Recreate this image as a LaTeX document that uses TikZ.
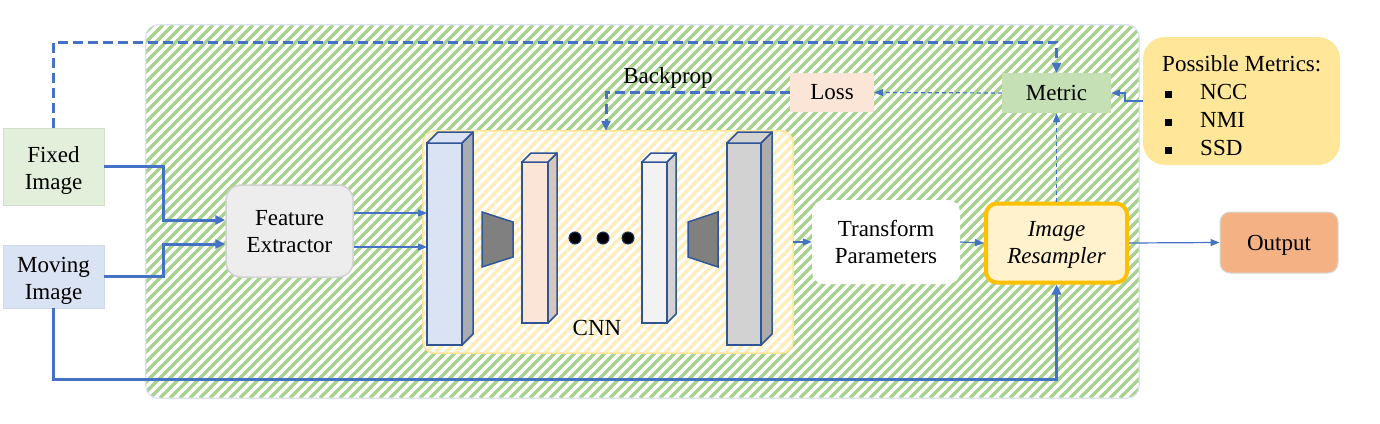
\documentclass[tikz,border=0pt]{standalone}
\usepackage{fontspec}
\setmainfont{Liberation Serif}
\usetikzlibrary{arrows.meta}
\definecolor{arrowblue}{HTML}{4472C4}
\definecolor{hatchgreen}{HTML}{A9D18E}
\definecolor{hatchyellow}{HTML}{FFEDBA}
\definecolor{edgeblue}{HTML}{DAE3F3}
\definecolor{blockedge}{HTML}{2F5597}
\definecolor{fixedfill}{HTML}{E2EFDA}
\definecolor{movingfill}{HTML}{DAE3F3}
\definecolor{fefill}{HTML}{EDEDED}
\definecolor{lossfill}{HTML}{FBE5D6}
\definecolor{metricfill}{HTML}{C5E0B4}
\definecolor{resfill}{HTML}{FFF2CC}
\definecolor{resedge}{HTML}{FFC000}
\definecolor{outfill}{HTML}{F4B183}
\definecolor{pmfill}{HTML}{FFE699}
\definecolor{cnnedge}{HTML}{FFE699}
\newcommand\cnnblock[8]{%
  \filldraw[fill=#6, draw=blockedge, line width=1.5pt] (#1,#2) rectangle (#3,#4);
  \filldraw[fill=#7, draw=blockedge, line width=1.5pt, line join=round] (#3,#2) -- ++(#5,-#5) -- (#3+#5,#4-#5) -- (#3,#4) -- cycle;
  \filldraw[fill=#8, draw=blockedge, line width=1.5pt, line join=round] (#1,#2) -- ++(#5,-#5) -- (#3+#5,#2-#5) -- (#3,#2) -- cycle;
}
\newcommand\lowertxt[2]{\raisebox{-#1}[\height][\depth]{#2}}
\begin{document}
\begin{tikzpicture}[x=1pt,y=-1pt,
  every node/.style={font=\fontsize{23}{27}\selectfont, align=center, inner sep=0pt},
  thickarrow/.style={draw=arrowblue, line width=3pt, -{Triangle[length=10pt,width=9pt]}},
  thinarrow/.style={draw=arrowblue, line width=1.2pt, -{Triangle[length=9pt,width=7pt]}},
  dashthick/.style={thickarrow, dash pattern=on 10pt off 5pt},
  dashthin/.style={thinarrow, dash pattern=on 4pt off 3pt},
]
\useasboundingbox (0,0) rectangle (1380,423);

% main green hatched container
\node[minimum width=993pt, minimum height=373pt] (main) at (642.5,211.5) {};
\begin{scope}
  \clip[rounded corners=12pt] (main.north west) rectangle (main.south east);
  \fill[white] (main.north west) rectangle (main.south east);
  \foreach \a in {-230,-220,...,1145}
    \draw[hatchgreen, line width=3.3pt] (\a,398) -- ++(373,-373);
\end{scope}
\draw[edgeblue, line width=1.2pt, rounded corners=12pt] (main.north west) rectangle (main.south east);

% CNN container
\node[minimum width=370pt, minimum height=222pt] (cnn) at (608,242) {};
\begin{scope}
  \clip[rounded corners=12pt] (cnn.north west) rectangle (cnn.south east);
  \fill[white] (cnn.north west) rectangle (cnn.south east);
  \foreach \a in {195,205,...,800}
    \draw[hatchyellow, line width=3.3pt] (\a,353) -- ++(222,-222);
\end{scope}
\draw[cnnedge, line width=1.5pt, rounded corners=12pt] (cnn.north west) rectangle (cnn.south east);

% CNN blocks
\cnnblock{427}{143}{462}{345}{11}{movingfill}{gray!55!movingfill}{movingfill}
\cnnblock{522}{162}{548}{323}{9}{lossfill}{lossfill!70!gray}{lossfill}
\cnnblock{642}{162}{667}{323}{9}{fefill!70!white}{fefill!75!gray}{fefill!70!white}
\cnnblock{727}{143}{761}{345}{11}{gray!35}{gray!65}{gray!35}
\filldraw[fill=gray, draw=blockedge, line width=1.5pt] (482,212) -- (513,222) -- (513,257) -- (482,267) -- cycle;
\filldraw[fill=gray, draw=blockedge, line width=1.5pt] (688,222) -- (718,212) -- (718,267) -- (688,257) -- cycle;
\foreach \x in {575,603,628}
  \filldraw[fill=black, draw=blockedge!60!black, line width=1pt] (\x,238) circle (6);
\node (cnnlabel) at (597,328) {CNN};
\coordinate (b1a) at (427,213);
\coordinate (b1b) at (427,247);

% nodes
\node[fill=fixedfill, draw=fixedfill!85!gray, line width=0.8pt, minimum width=101pt, minimum height=77pt] (fixed) at (53.5,166.5) {\lowertxt{4pt}{\begin{tabular}{@{}c@{}}Fixed\\Image\end{tabular}}};
\node[fill=movingfill, draw=movingfill!90!gray, line width=0.8pt, minimum width=101pt, minimum height=63pt] (moving) at (53.5,276.5) {\lowertxt{4pt}{\begin{tabular}{@{}c@{}}Moving\\Image\end{tabular}}};
\node[fill=fefill, draw=gray!35, line width=1.5pt, rounded corners=15pt, minimum width=127pt, minimum height=92pt] (fe) at (289.5,231) {\lowertxt{3pt}{\begin{tabular}{@{}c@{}}Feature\\Extractor\end{tabular}}};
\node[fill=white, rounded corners=12pt, minimum width=148pt, minimum height=84pt] (tp) at (886,242) {Transform\\Parameters};
\node[fill=resfill, draw=resedge, line width=4pt, rounded corners=11pt, minimum width=141pt, minimum height=79pt] (res) at (1056.5,243) {\lowertxt{2pt}{\begin{tabular}{@{}c@{}}\itshape Image\\\itshape Resampler\end{tabular}}};
\node[fill=outfill, draw=gray!30, line width=1pt, rounded corners=10pt, minimum width=118pt, minimum height=61pt] (out) at (1279,242.5) {\lowertxt{3pt}{Output}};
\node[fill=metricfill, minimum width=109pt, minimum height=40pt] (metric) at (1056.5,93) {Metric};
\node[fill=lossfill, minimum width=84pt, minimum height=39pt] (loss) at (832,92.5) {Loss};
\node[fill=pmfill, rounded corners=22pt, minimum width=197pt, minimum height=128pt] (pm) at (1241.5,101) {};
\node[anchor=north west, align=left, font=\fontsize{23}{28}\selectfont] (pmtext) at (1162,55) {Possible Metrics:\\
  \hspace{3pt}\rule[1pt]{7pt}{7pt}\hspace{28pt}NCC\\
  \hspace{3pt}\rule[1pt]{7pt}{7pt}\hspace{28pt}NMI\\
  \hspace{3pt}\rule[1pt]{7pt}{7pt}\hspace{28pt}SSD};
\node (bplabel) at (668,78) {Backprop};

% connectors
\draw[thickarrow] (fixed.east) -| (163,220) -- ([yshift=11pt]fe.west);
\draw[thickarrow] (moving.east) -| (163,244) -- ([yshift=-13pt]fe.west);
\draw[thinarrow] ([yshift=18pt]fe.east) -- (b1a);
\draw[thinarrow] ([yshift=-16pt]fe.east) -- (b1b);
\draw[dashthick] (fixed.north) |- (1056.5,42) -- (metric.north);
\draw[thickarrow] (moving.south) |- (1056.5,379) -- (res.south);
\draw[thinarrow] (cnn.east) -- (tp.west);
\draw[thinarrow] (tp.east) -- (res.west);
\draw[thinarrow] (res.east) -- (out.west);
\draw[dashthin] (res.north) -- (metric.south);
\draw[dashthin] (metric.west) -- (loss.east);
\draw[dashthick] (loss.west) -| ([xshift=-2pt]cnn.north);
\draw[thinarrow] (pm.west) -- (1125,101) |- (metric.east);
\end{tikzpicture}
\end{document}
